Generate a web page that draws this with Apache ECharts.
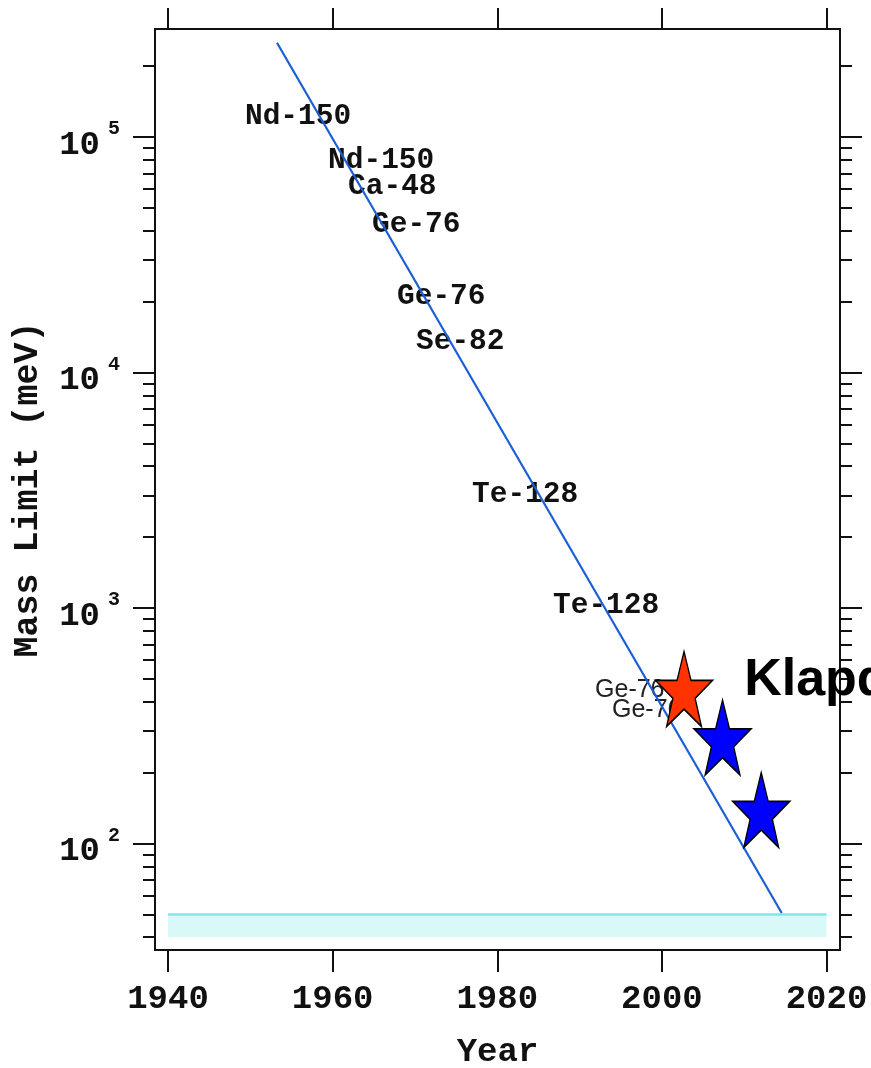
<!DOCTYPE html>
<html><head><meta charset="utf-8">
<script src="https://cdn.jsdelivr.net/npm/echarts@6/dist/echarts.min.js"></script>
<style>html,body{margin:0;padding:0;background:#fff}#c{width:871px;height:1068px}</style>
</head><body><div id="c"></div>
<script>
// ---- data ----
const yearTicks = [1940, 1960, 1980, 2000, 2020];
const majorMass = [100, 1000, 10000, 100000];
const minorMass = [40, 50, 60, 70, 80, 90,
  200, 300, 400, 500, 600, 700, 800, 900,
  2000, 3000, 4000, 5000, 6000, 7000, 8000, 9000,
  20000, 30000, 40000, 50000, 60000, 70000, 80000, 90000,
  200000];
const trendYears = [1953.24, 2014.56];
const trendMass = [251400, 50.7];
const isoNames = ['Nd-150', 'Nd-150', 'Ca-48', 'Ge-76', 'Ge-76', 'Se-82', 'Te-128', 'Te-128'];
const isoYears = [1949.35, 1959.44, 1961.87, 1964.78, 1967.82, 1970.13, 1976.93, 1986.77];
const isoMass = [121600, 79100, 61340, 42300, 20920, 13470, 3018, 1020];
const recentNames = ['Ge-76', 'Ge-76'];
const recentYears = [1991.88, 1993.94];
const recentMass = [448.5, 368.8];
const starYears = [2002.69, 2007.37, 2012.07];
const starMass = [452.9, 281.9, 138.8];
const starColors = ['#ff3300', '#0000ff', '#0000ff'];
const starNames = ['Klapdor', '', ''];
const bandYears = [1940, 2020];
const bandMass = [40, 50];

// ---- chart ----
const MONO = "'Liberation Mono','Courier New',monospace";
const SANS = "'Liberation Sans',Arial,sans-serif";
const INK = '#111';
const STAR = 'path://M50,0 L61.8,35.1 L98.1,35.1 L68.8,56.8 L79.4,91 L50,70 L20.6,91 L31.2,56.8 L1.9,35.1 L38.2,35.1 Z';

const xMin = 1938.42, xMax = 2021.64;
const yMin = 35.3, yMax = 287400;

const axisLine = { show: true, onZero: false, lineStyle: { color: INK, width: 2 } };
const tickStyle = { color: INK, width: 2 };

function yAx(pos, major, extra) {
  return Object.assign({
    type: 'log', logBase: 10, min: yMin, max: yMax, position: pos,
    splitLine: { show: false }, minorTick: { show: false },
    axisLine: axisLine,
    axisTick: { show: true, inside: false, length: major ? 22 : 12, lineStyle: tickStyle,
      customValues: major ? majorMass : minorMass },
    axisLabel: { show: false }
  }, extra || {});
}

const chart = echarts.init(document.getElementById('c'), null, { renderer: 'canvas' });
chart.setOption({
  animation: false,
  backgroundColor: '#fff',
  grid: { left: 155, right: 31, top: 29, bottom: 118, containLabel: false, outerBoundsMode: 'none' },
  xAxis: [
    {
      type: 'value', min: xMin, max: xMax, position: 'bottom',
      splitLine: { show: false }, axisLine: axisLine,
      axisTick: { show: true, length: 22, lineStyle: tickStyle, customValues: yearTicks },
      axisLabel: { show: true, customValues: yearTicks, margin: 32, formatter: v => String(v),
        fontSize: 34, fontWeight: 'bold', fontFamily: MONO, color: INK },
      name: 'Year', nameLocation: 'middle', nameGap: 85,
      nameTextStyle: { fontSize: 34, fontWeight: 'bold', fontFamily: MONO, color: INK }
    },
    {
      type: 'value', min: xMin, max: xMax, position: 'top',
      splitLine: { show: false }, axisLine: axisLine,
      axisTick: { show: true, length: 21, lineStyle: tickStyle, customValues: yearTicks },
      axisLabel: { show: false }
    }
  ],
  yAxis: [
    yAx('left', true, {
      axisLabel: {
        show: true, customValues: majorMass, margin: 35,
        formatter: v => '{b|10}{s|' + Math.round(Math.log10(v)) + '}',
        rich: {
          b: { fontSize: 34, fontWeight: 'bold', fontFamily: MONO, color: INK, padding: [16, 0, 0, 0] },
          s: { fontSize: 20, fontWeight: 'bold', fontFamily: MONO, color: INK, padding: [0, 0, 16, 8] }
        }
      },
      name: 'Mass Limit (meV)', nameLocation: 'middle', nameRotate: 90, nameGap: 109,
      nameTextStyle: { fontSize: 35, fontWeight: 'bold', fontFamily: MONO, color: INK }
    }),
    yAx('left', false),
    yAx('right', true),
    yAx('right', false)
  ],
  series: [
    {
      type: 'line', silent: true, symbol: 'none', z: 2,
      data: bandYears.map(x => [x, bandMass[1]]),
      lineStyle: { color: '#7fe8ea', width: 2.5 },
      markArea: {
        silent: true,
        itemStyle: { color: '#d9f9f9', opacity: 1 },
        data: [[{ coord: [bandYears[0], bandMass[0]] }, { coord: [bandYears[1], bandMass[1]] }]]
      }
    },
    {
      type: 'scatter', silent: true, symbolSize: 0, z: 3,
      itemStyle: { opacity: 1 },
      data: isoNames.map((n, i) => ({ name: n, value: [isoYears[i], isoMass[i]] })),
      label: { show: true, position: 'inside', align: 'left', verticalAlign: 'middle', formatter: '{b}',
        fontSize: 29.5, fontWeight: 'bold', fontFamily: MONO, color: INK, opacity: 1 }
    },
    {
      type: 'scatter', silent: true, symbolSize: 0, z: 3,
      itemStyle: { opacity: 1 },
      data: recentNames.map((n, i) => ({ name: n, value: [recentYears[i], recentMass[i]] })),
      label: { show: true, position: 'inside', align: 'left', verticalAlign: 'middle', formatter: '{b}',
        fontSize: 25, fontFamily: SANS, color: '#222', opacity: 1 }
    },
    {
      type: 'line', silent: true, symbol: 'none', z: 4,
      data: trendYears.map((x, i) => [x, trendMass[i]]),
      lineStyle: { color: '#1a5fd6', width: 2.2 }
    },
    {
      type: 'scatter', silent: true, z: 6, clip: false,
      symbol: STAR, symbolSize: [57, 75],
      data: starYears.map((x, i) => ({
        name: starNames[i], value: [x, starMass[i]],
        itemStyle: { color: starColors[i], borderColor: '#000', borderWidth: 1.5, opacity: 1 }
      })),
      label: {
        show: true, position: 'right', distance: 31, offset: [0, -8], formatter: '{b}',
        fontSize: 52, fontWeight: 'bold', fontFamily: SANS, color: '#000', opacity: 1
      }
    }
  ]
});
</script>
</body></html>
